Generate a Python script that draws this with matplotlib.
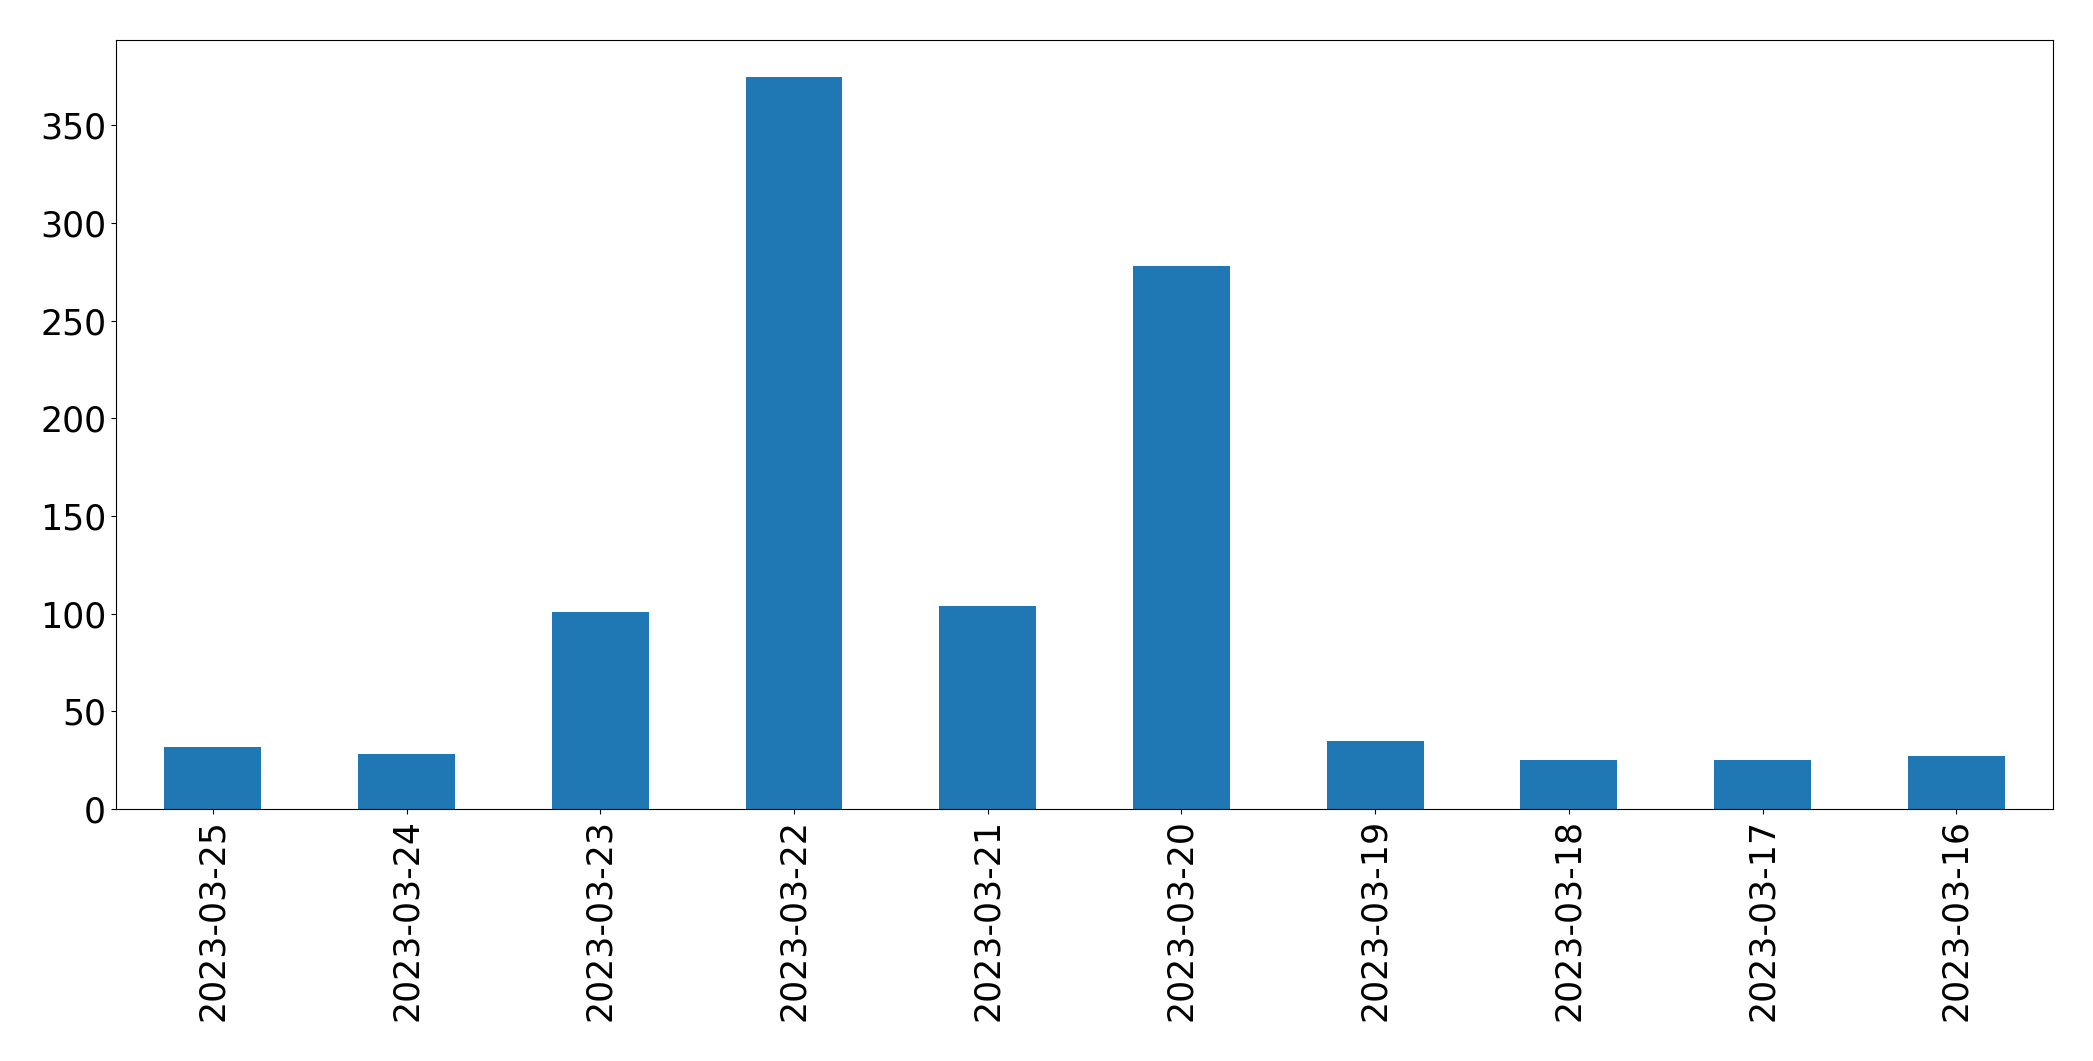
import matplotlib
matplotlib.use("Agg")
import matplotlib.pyplot as plt
import numpy as np

dates = ["2023-03-25", "2023-03-24", "2023-03-23", "2023-03-22", "2023-03-21",
         "2023-03-20", "2023-03-19", "2023-03-18", "2023-03-17", "2023-03-16"]
counts = [32, 28, 101, 375, 104, 278, 35, 25, 25, 27]

fig = plt.figure(figsize=(20.93, 10.61), dpi=100)
ax = fig.add_axes([0.0554, 0.2375, 0.9256, 0.7248])

x = np.arange(len(dates))
ax.bar(x, counts, width=0.5, color="#1f77b4")
ax.set_xlim(-0.5, len(dates) - 0.5)
ax.set_xticks(x)
ax.set_xticklabels(dates, rotation=90)
ax.tick_params(labelsize=25)

fig.savefig("out.png", dpi=100)
